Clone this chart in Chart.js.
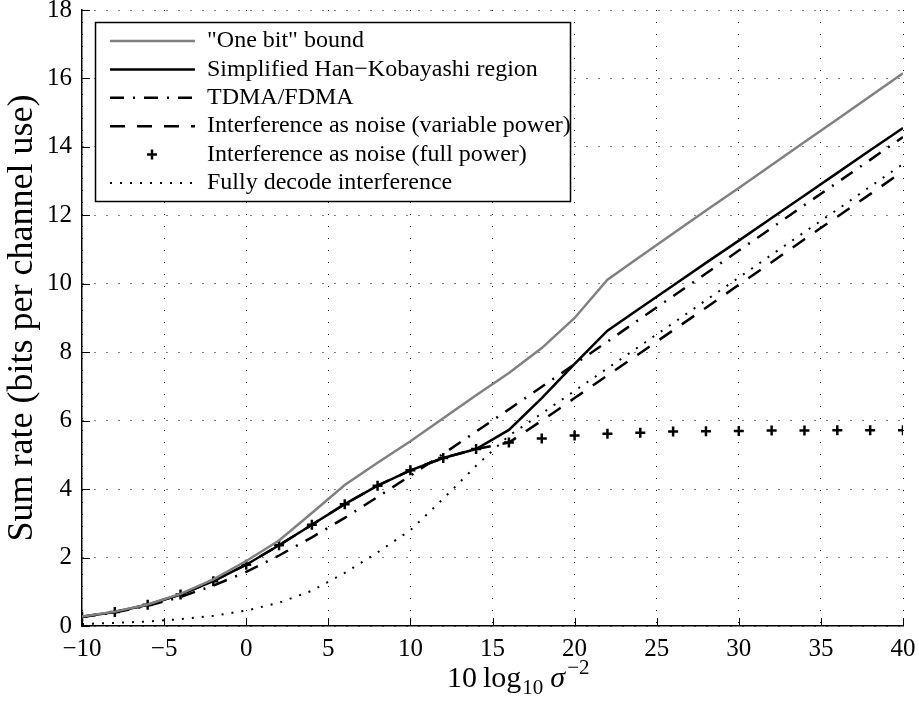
<!DOCTYPE html>
<html>
<head>
<meta charset="utf-8">
<script src="https://cdn.jsdelivr.net/npm/chart.js@4.4.1/dist/chart.umd.min.js"></script>
<style>
  html, body { margin: 0; padding: 0; background: #fff; }
</style>
</head>
<body>
<canvas id="myChart" width="919" height="702"></canvas>
<script>
// x values (10 log10 sigma^-2, dB)
const snrDb = [-10, -8, -6, -4, -2, 0, 2, 4, 6, 8, 10, 12, 14, 16, 18, 20, 22, 24, 26, 28, 30, 32, 34, 36, 38, 40];

// sum rates
const oneBitBound = [0.28, 0.42, 0.63, 0.94, 1.36, 1.9, 2.5, 3.3, 4.12, 4.77, 5.4, 6.07, 6.74, 7.39, 8.12, 9.0, 10.12, 10.8, 11.47, 12.14, 12.8, 13.47, 14.14, 14.81, 15.48, 16.15];
const hanKobayashi = [0.27, 0.41, 0.62, 0.92, 1.31, 1.79, 2.36, 2.96, 3.56, 4.1, 4.55, 4.91, 5.17, 5.73, 6.66, 7.66, 8.63, 9.29, 9.95, 10.61, 11.26, 11.92, 12.58, 13.24, 13.9, 14.55];
const tdmaFdma = [0.26, 0.4, 0.59, 0.85, 1.18, 1.58, 2.06, 2.59, 3.16, 3.77, 4.39, 5.03, 5.68, 6.33, 6.99, 7.65, 8.31, 8.98, 9.64, 10.3, 10.97, 11.63, 12.3, 12.96, 13.62, 14.29];
const ianVariable = [0.27, 0.41, 0.62, 0.92, 1.31, 1.79, 2.36, 2.96, 3.56, 4.1, 4.55, 4.91, 5.17, 5.36, 6.0, 6.66, 7.32, 7.98, 8.64, 9.3, 9.97, 10.63, 11.3, 11.96, 12.62, 13.29];
const ianFull = [0.27, 0.41, 0.62, 0.92, 1.31, 1.79, 2.36, 2.96, 3.56, 4.1, 4.55, 4.91, 5.17, 5.36, 5.48, 5.57, 5.62, 5.65, 5.68, 5.69, 5.7, 5.71, 5.71, 5.72, 5.72, 5.72];
const fullyDecode = [0.06, 0.09, 0.13, 0.2, 0.3, 0.45, 0.68, 1.03, 1.55, 2.15, 2.8, 3.72, 4.68, 5.56, 6.21, 6.87, 7.53, 8.19, 8.85, 9.52, 10.18, 10.85, 11.51, 12.17, 12.84, 13.5];

const seriesLabels = ['"One bit" bound', 'Simplified Han\u2212Kobayashi region', 'TDMA/FDMA',
    'Interference as noise (variable power)', 'Interference as noise (full power)', 'Fully decode interference'];

const FONT = '"Liberation Serif", "Times New Roman", serif';

function toPoints(ys) {
    return snrDb.map(function(x, i) { return { x: x, y: ys[i] }; });
}

function minus(v) {
    return String(v).replace('-', '\u2212');
}

// legend box drawn inside the plot, like the matlab one
const legendBox = {
    id: 'legendBox',
    afterDraw(chart) {
        const ctx = chart.ctx;
        ctx.save();
        ctx.fillStyle = '#fff';
        ctx.fillRect(95, 22, 475, 179);
        ctx.strokeStyle = '#000';
        ctx.lineWidth = 1.5;
        ctx.setLineDash([]);
        ctx.strokeRect(95.5, 22.5, 475, 179);
        ctx.font = '24px ' + FONT;
        ctx.textBaseline = 'middle';
        chart.data.datasets.forEach(function(ds, i) {
            const y = 41 + i * 28.4;
            ctx.strokeStyle = ds.borderColor;
            ctx.lineWidth = ds.borderWidth;
            if (ds.showLine === false) {
                ctx.setLineDash([]);
                ctx.lineWidth = ds.pointBorderWidth;
                ctx.beginPath();
                ctx.moveTo(152 - 5, y); ctx.lineTo(152 + 5, y);
                ctx.moveTo(152, y - 5); ctx.lineTo(152, y + 5);
                ctx.stroke();
            } else {
                ctx.setLineDash(ds.borderDash || []);
                ctx.beginPath();
                ctx.moveTo(110, y);
                ctx.lineTo(195, y);
                ctx.stroke();
            }
            ctx.setLineDash([]);
            ctx.fillStyle = '#000';
            ctx.fillText(ds.label, 207, y);
        });
        ctx.restore();
    }
};

// inward tick marks + x axis label with sub/superscripts
const axisExtras = {
    id: 'axisExtras',
    afterDraw(chart) {
        const ctx = chart.ctx;
        const xs = chart.scales.x, ys = chart.scales.y;
        const area = chart.chartArea;
        ctx.save();
        ctx.strokeStyle = '#000';
        ctx.lineWidth = 1;
        ctx.beginPath();
        xs.ticks.forEach(function(t) {
            const px = Math.round(xs.getPixelForValue(t.value)) + 0.5;
            ctx.moveTo(px, area.bottom);
            ctx.lineTo(px, area.bottom - 8);
        });
        ys.ticks.forEach(function(t) {
            const py = Math.round(ys.getPixelForValue(t.value)) + 0.5;
            ctx.moveTo(area.left, py);
            ctx.lineTo(area.left + 8, py);
        });
        ctx.stroke();

        // 10 log_10 sigma^-2
        ctx.fillStyle = '#000';
        ctx.textBaseline = 'alphabetic';
        ctx.textAlign = 'left';
        const base = 687;
        let x = 447;
        ctx.font = '30px ' + FONT;
        ctx.fillText('10', x, base); x += ctx.measureText('10').width + 6;
        ctx.fillText('log', x, base); x += ctx.measureText('log').width + 1;
        ctx.font = '21px ' + FONT;
        ctx.fillText('10', x, base + 7); x += ctx.measureText('10').width + 7;
        ctx.font = 'italic 30px ' + FONT;
        ctx.fillText('\u03c3', x, base); x += ctx.measureText('\u03c3').width + 2;
        ctx.font = '21px ' + FONT;
        ctx.fillText('\u22122', x, base - 13);
        ctx.restore();
    }
};

const ctx = document.getElementById('myChart').getContext('2d');
new Chart(ctx, {
    type: 'line',
    data: {
        datasets: [{
            label: seriesLabels[0],
            data: toPoints(oneBitBound),
            borderColor: '#808080',
            borderWidth: 2.5,
            pointRadius: 0
        }, {
            label: seriesLabels[1],
            data: toPoints(hanKobayashi),
            borderColor: '#000',
            borderWidth: 2.5,
            pointRadius: 0
        }, {
            label: seriesLabels[2],
            data: toPoints(tdmaFdma),
            borderColor: '#000',
            borderWidth: 2.5,
            borderDash: [14, 9, 2, 9],
            pointRadius: 0
        }, {
            label: seriesLabels[3],
            data: toPoints(ianVariable),
            borderColor: '#000',
            borderWidth: 2.5,
            borderDash: [15, 12],
            pointRadius: 0
        }, {
            label: seriesLabels[4],
            data: toPoints(ianFull),
            borderColor: '#000',
            backgroundColor: '#000',
            showLine: false,
            pointStyle: 'cross',
            pointRadius: 5,
            pointBorderWidth: 2.5,
            borderWidth: 2.5
        }, {
            label: seriesLabels[5],
            data: toPoints(fullyDecode),
            borderColor: '#000',
            borderWidth: 2,
            borderDash: [2, 8],
            pointRadius: 0
        }]
    },
    options: {
        responsive: false,
        animation: false,
        devicePixelRatio: 1,
        layout: { padding: { top: 10, right: 16, left: 0, bottom: 0 } },
        elements: { line: { tension: 0, fill: false } },
        plugins: {
            legend: { display: false },
            tooltip: { enabled: false }
        },
        scales: {
            x: {
                type: 'linear',
                min: -10,
                max: 40,
                afterFit: function(s) {
                    s.height = 76;
                    s.paddingLeft = 0;
                    s.paddingRight = 0;
                },
                grid: { color: '#000', lineWidth: 1, drawTicks: false },
                border: { display: true, color: '#000', width: 1.5, dash: [1, 11] },
                ticks: {
                    stepSize: 5,
                    padding: 8,
                    color: '#000',
                    font: { family: FONT, size: 25 },
                    callback: function(v) { return minus(v); }
                },
                title: { display: false }
            },
            y: {
                min: 0,
                max: 18,
                afterFit: function(s) {
                    s.width = 82;
                    s.paddingTop = 0;
                    s.paddingBottom = 0;
                },
                grid: { color: '#000', lineWidth: 1, drawTicks: false },
                border: { display: true, color: '#000', width: 1.5, dash: [1, 11] },
                ticks: {
                    stepSize: 2,
                    padding: 10,
                    color: '#000',
                    font: { family: FONT, size: 25 },
                    callback: function(v) { return minus(v); }
                },
                title: {
                    display: true,
                    text: 'Sum rate (bits per channel use)',
                    color: '#000',
                    font: { family: FONT, size: 36 },
                    padding: { top: 1, bottom: 0 }
                }
            }
        }
    },
    plugins: [legendBox, axisExtras]
});
</script>
</body>
</html>
